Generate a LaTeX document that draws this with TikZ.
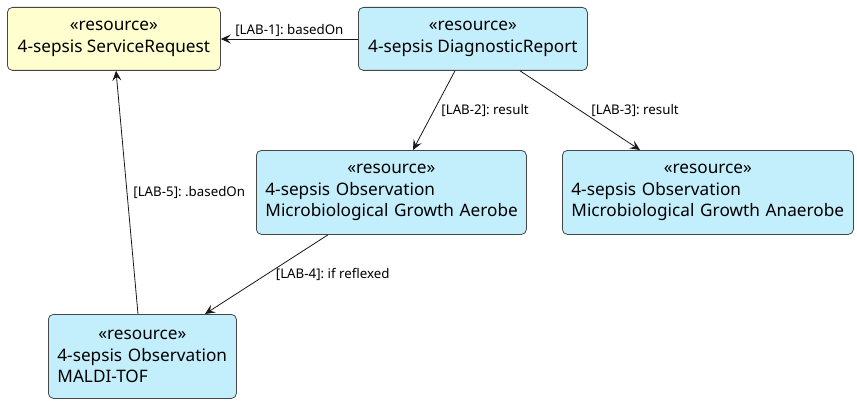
\documentclass[tikz,border=0pt]{standalone}
\usepackage{fontspec}
\setmainfont{Noto Sans}
\usetikzlibrary{arrows.meta}
\frenchspacing
\definecolor{sryellow}{HTML}{FEFECE}
\definecolor{resblue}{HTML}{C3EFFD}
\definecolor{edge}{HTML}{181818}
\tikzset{
  res/.style={draw=edge!80, line width=0.8pt, rounded corners=5pt, inner sep=0pt, anchor=north west,
    font=\fontsize{17.2}{21.8}\selectfont, align=center},
  resl/.style={res, align=left, text width=#1, inner xsep=9pt},
  conn/.style={draw=edge, line width=0.8pt, -{Stealth[length=10pt,width=9pt,inset=4pt]}},
  lbl/.style={font=\fontsize{13.3}{15}\selectfont, text=black, inner sep=1pt},
}
\begin{document}
\begin{tikzpicture}[x=1pt,y=-1pt]
\useasboundingbox (0,0) rectangle (857,404);
\node[res, fill=sryellow, minimum width=213pt, minimum height=63pt] (sr) at (7,7) {«resource»\\4-sepsis ServiceRequest};
\node[res, fill=resblue, minimum width=229pt, minimum height=63pt] (dr) at (358,7) {«resource»\\4-sepsis DiagnosticReport};
\node[resl=252pt, fill=resblue, minimum height=84pt] (aer) at (256,150) {\makebox[\linewidth][c]{«resource»}\\\mbox{4-sepsis Observation}\\\mbox{Microbiological Growth Aerobe}};
\node[resl=273pt, fill=resblue, minimum height=84pt] (ana) at (562,150) {\makebox[\linewidth][c]{«resource»}\\\mbox{4-sepsis Observation}\\\mbox{Microbiological Growth Anaerobe}};
\node[resl=170pt, fill=resblue, minimum height=84pt] (mal) at (48,314) {\makebox[\linewidth][c]{«resource»}\\\mbox{4-sepsis Observation}\\\mbox{MALDI-TOF}};

\draw[conn] (dr.west |- 0,39) -- (sr.east |- 0,39) node[midway, above=1pt, lbl] {[LAB-1]: basedOn};
\draw[conn] (dr.south -| 455,0) -- (aer.north -| 413,0) node[pos=0.5, right=6pt, lbl] {[LAB-2]: result};
\draw[conn] (dr.south -| 520,0) -- (ana.north -| 640,0) node[pos=0.5, right=10pt, lbl] {[LAB-3]: result};
\draw[conn] (aer.south -| 328,0) -- (mal.north -| 205,0) node[pos=0.5, right=8pt, lbl] {[LAB-4]: if reflexed};
\draw[conn] (mal.north -| 138,0) -- (sr.south -| 116,0) node[pos=0.5, right=5pt, lbl] {[LAB-5]: .basedOn};
\end{tikzpicture}
\end{document}
